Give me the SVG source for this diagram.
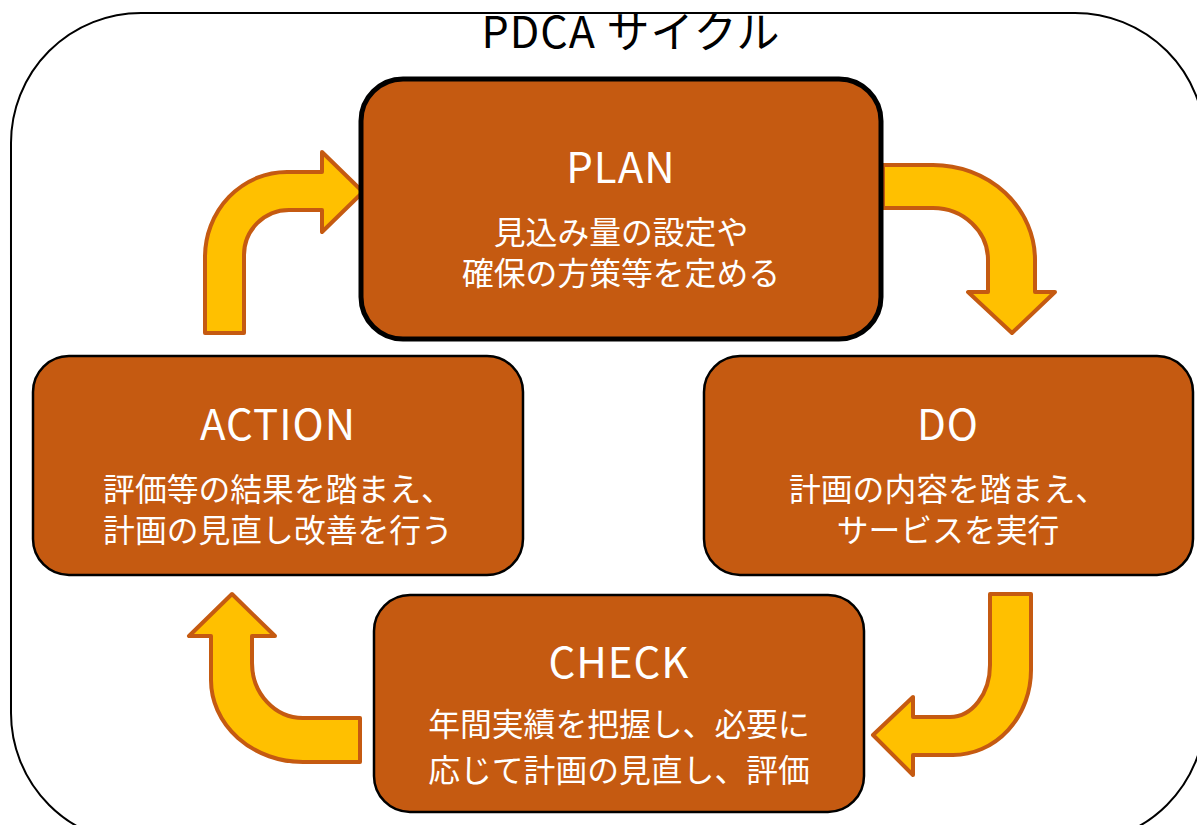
<svg xmlns="http://www.w3.org/2000/svg" width="1197" height="825" viewBox="0 0 1197 825">
<style>
.node{fill:#C55A11;stroke:#000;stroke-width:2.5}
.t{fill:#fff;font-family:"Noto Sans CJK JP","Noto Sans",sans-serif;text-anchor:middle}
.h{font-size:42px;letter-spacing:1px}
.b{font-size:31.8px}
.arr{fill:#FFC000;stroke:#C55A11;stroke-width:4;stroke-linejoin:round}
</style>
<rect width="1197" height="825" fill="#fff"/>
<g id="frame">
<rect x="11" y="13" width="1194" height="830" rx="130" ry="130" fill="none" stroke="#000" stroke-width="2"/>
<text x="631" y="48" font-family="'Noto Sans CJK JP','Noto Sans',sans-serif" font-size="43" letter-spacing="1" text-anchor="middle" fill="#000">PDCA サイクル</text>
</g>
<g id="connectors">
<path class="arr" d="M205,333 L205,257 A82,85 0 0 1 287,172 L322,172 L322,152 L363,192 L322,232 L322,210 L289,210 A45,45 0 0 0 244,255 L244,333 Z"/>
<path class="arr" d="M883,165 L933,165 A102,95 0 0 1 1035,260 L1035,292 L1055,292 L1012,333 L968,292 L988,292 L988,260 A55,52 0 0 0 933,208 L883,208 Z"/>
<path class="arr" d="M990,594 L1031,594 L1031,670 A78,85 0 0 1 953,755 L913,755 L913,775 L873,735 L913,697 L913,717 L950,717 A40,52 0 0 0 990,665 Z"/>
<path class="arr" d="M360,718 L303,718 A51,55 0 0 1 252,663 L252,636 L275,636 L232,594 L189,636 L211,636 L211,680 A92,82 0 0 0 303,762 L360,762 Z"/>
</g>
<g id="plan">
<rect x="361" y="79" width="520" height="260" rx="42" class="node" style="stroke-width:5"/>
<text class="t h" x="621" y="183">PLAN</text>
<text class="t b" x="621" y="244">見込み量の設定や</text>
<text class="t b" x="621" y="285">確保の方策等を定める</text>
</g>
<g id="do">
<rect x="704" y="356" width="489" height="219" rx="36" class="node"/>
<text class="t h" x="948" y="440">DO</text>
<text class="t b" x="948" y="501">計画の内容を踏まえ、</text>
<text class="t b" x="948" y="542">サービスを実行</text>
</g>
<g id="check">
<rect x="374" y="595" width="490" height="217" rx="36" class="node"/>
<text class="t h" x="619" y="678">CHECK</text>
<text class="t b" x="619" y="736">年間実績を把握し、必要に</text>
<text class="t b" x="619" y="782">応じて計画の見直し、評価</text>
</g>
<g id="action">
<rect x="33" y="356" width="490" height="219" rx="36" class="node"/>
<text class="t h" x="278" y="440">ACTION</text>
<text class="t b" x="278" y="501">評価等の結果を踏まえ、</text>
<text class="t b" x="278" y="542">計画の見直し改善を行う</text>
</g>
</svg>
